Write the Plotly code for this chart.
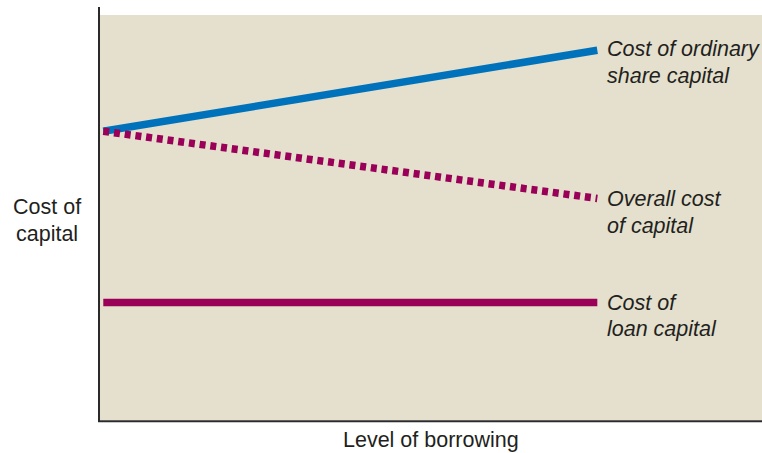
import plotly.graph_objects as go

# Level of borrowing (start and end of each line)
borrowing = [0, 75]

# Cost of capital series (arbitrary units)
cost_ordinary_share = [71.3, 91.3]
overall_cost = [71.3, 54.7]
cost_loan = [29.0, 29.0]

label_ordinary = ["Cost of ordinary", "share capital"]
label_overall = ["Overall cost", "of capital"]
label_loan = ["Cost of", "loan capital"]

blue = "#0072bb"
magenta = "#9a0058"
beige = "#e4e0cd"
font_family = "Liberation Sans, Arial, sans-serif"
text_size = 21.5

fig = go.Figure()
fig.add_trace(go.Scatter(x=borrowing, y=cost_ordinary_share, mode="lines",
                         line=dict(color=blue, width=7.5), hoverinfo="skip"))
fig.add_trace(go.Scatter(x=borrowing, y=overall_cost, mode="lines",
                         line=dict(color=magenta, width=7.5, dash="6px,4.8px"),
                         hoverinfo="skip"))
fig.add_trace(go.Scatter(x=borrowing, y=cost_loan, mode="lines",
                         line=dict(color=magenta, width=7.5), hoverinfo="skip"))

# Two-line italic labels at the right end of each line
annotations = []
for lines, yv, dy in [(label_ordinary, cost_ordinary_share[-1], 1),
                      (label_overall, overall_cost[-1], -1),
                      (label_loan, cost_loan[-1], 0)]:
    for i, t in enumerate(lines):
        annotations.append(dict(
            x=borrowing[-1], y=yv, xref="x", yref="y", text=t,
            showarrow=False, xanchor="left", yanchor="middle",
            xshift=8, yshift=dy - 26.5 * i,
            font=dict(family=font_family, size=text_size, color="#231f20",
                      style="italic"),
        ))

# Axis titles
for i, t in enumerate(["Cost of", "capital"]):
    annotations.append(dict(
        x=-0.0, y=0.527, xref="paper", yref="paper", text=t,
        showarrow=False, xanchor="center", yanchor="middle",
        xshift=-53, yshift=-27 * i,
        font=dict(family=font_family, size=text_size, color="#231f20"),
    ))
annotations.append(dict(
    x=0.5, y=0, xref="paper", yref="paper", text="Level of borrowing",
    showarrow=False, xanchor="center", yanchor="middle", yshift=-20,
    font=dict(family=font_family, size=text_size, color="#231f20"),
))

fig.update_layout(
    width=762, height=453,
    margin=dict(l=100, r=0, t=15, b=33),
    paper_bgcolor="white", plot_bgcolor=beige,
    showlegend=False,
    xaxis=dict(range=[-0.5, 100], visible=False, fixedrange=True),
    yaxis=dict(range=[0, 100], visible=False, fixedrange=True),
    annotations=annotations,
    shapes=[
        dict(type="line", xref="paper", yref="paper", x0=-0.0015, x1=-0.0015,
             y0=1.02, y1=-0.003, line=dict(color="#2a2a2a", width=2)),
        dict(type="line", xref="paper", yref="paper", x0=-0.003, x1=1,
             y0=-0.003, y1=-0.003, line=dict(color="#2a2a2a", width=2)),
    ],
)

fig.write_html("out.html")
